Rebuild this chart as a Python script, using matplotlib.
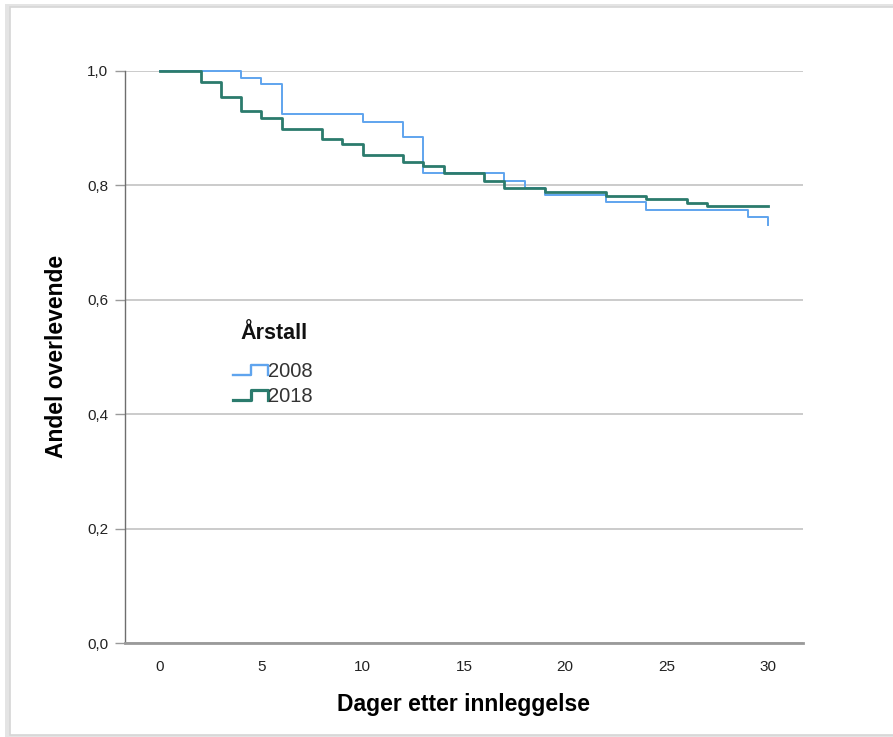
import matplotlib
matplotlib.use("Agg")
import matplotlib.pyplot as plt
from matplotlib.lines import Line2D
from matplotlib.legend_handler import HandlerBase
from matplotlib.patches import Rectangle

plt.rcParams['font.family'] = ['Liberation Sans', 'DejaVu Sans']

# Data (Kaplan-Meier step curves)
days_2008 = [0, 4, 5, 6, 10, 12, 13, 17, 18, 19, 22, 24, 29, 30]
surv_2008 = [1.0, 0.988, 0.976, 0.925, 0.911, 0.885, 0.821, 0.808, 0.795,
             0.783, 0.770, 0.757, 0.744, 0.731]
days_2018 = [0, 2, 3, 4, 5, 6, 8, 9, 10, 12, 13, 14, 16, 17, 19, 22, 24, 26, 27, 30]
surv_2018 = [1.0, 0.981, 0.955, 0.930, 0.917, 0.898, 0.881, 0.872, 0.853, 0.841,
             0.834, 0.821, 0.808, 0.795, 0.788, 0.781, 0.776, 0.769, 0.763, 0.763]
series_labels = ['2008', '2018']
legend_title = 'Årstall'
x_ticks = [0, 5, 10, 15, 20, 25, 30]
y_ticks = [0.0, 0.2, 0.4, 0.6, 0.8, 1.0]
y_ticklabels = ['0,0', '0,2', '0,4', '0,6', '0,8', '1,0']

col_2008 = '#5fa4ee'
col_2018 = '#2b7b6d'

fig = plt.figure(figsize=(8.93, 7.37), dpi=100)

# outer frame with a light shadow
fig.patches.append(Rectangle((0.006, 0.0), 1.2, 0.995, transform=fig.transFigure,
                             facecolor='#e4e4e4', edgecolor='none', zorder=-3))
fig.patches.append(Rectangle((0.011, 0.003), 1.2, 0.988, transform=fig.transFigure,
                             facecolor='white', edgecolor='#d6d6d6', lw=1.2, zorder=-2))

ax = fig.add_axes([0.140, 0.1275, 0.759, 0.7765])
ax.set_facecolor('none')

ax.plot(days_2008, surv_2008, drawstyle='steps-post', color=col_2008, lw=1.4,
        label=series_labels[0], clip_on=False, zorder=3)
ax.plot(days_2018, surv_2018, drawstyle='steps-post', color=col_2018, lw=2.0,
        label=series_labels[1], clip_on=False, zorder=3)

ax.set_xlim(-1.73, 31.73)
ax.set_ylim(0, 1.0)
ax.set_xticks(x_ticks)
ax.set_yticks(y_ticks)
ax.set_yticklabels(y_ticklabels)
ax.yaxis.grid(True, color='#cbcbcb', lw=1.4)
ax.set_axisbelow(True)

for s in ['top', 'right']:
    ax.spines[s].set_visible(False)
ax.spines['left'].set_color('#6e6e6e')
ax.spines['left'].set_linewidth(1.0)
ax.spines['bottom'].set_color('#9a9a9a')
ax.spines['bottom'].set_linewidth(2.0)

ax.tick_params(axis='x', length=0, pad=12, labelsize=11, labelcolor='#222222')
ax.tick_params(axis='y', length=7, width=1.0, color='#9a9a9a', pad=5,
               labelsize=11, labelcolor='#222222')

ax.set_xlabel('Dager etter innleggelse', fontsize=16.5, fontweight='bold', labelpad=14)
ax.set_ylabel('Andel overlevende', fontsize=16.5, fontweight='bold', labelpad=14)


class StepHandler(HandlerBase):
    def create_artists(self, legend, orig_handle, xdescent, ydescent, width, height,
                       fontsize, trans):
        x0 = -xdescent
        y0 = -ydescent
        xs = [x0, x0 + 0.52 * width, x0 + 0.52 * width, x0 + width, x0 + width]
        ys = [y0 + 0.15 * height, y0 + 0.15 * height, y0 + 0.85 * height,
              y0 + 0.85 * height, y0 + 0.15 * height]
        ln = Line2D(xs, ys, color=orig_handle.get_color(),
                    lw=orig_handle.get_linewidth() + 0.3, transform=trans)
        return [ln]


handles = ax.get_lines()
leg = ax.legend(handles=handles, labels=series_labels,
                handler_map={Line2D: StepHandler()},
                loc='upper left', bbox_to_anchor=(0.159, 0.491),
                frameon=False, fontsize=14.5,
                handlelength=1.75, handletextpad=0.0,
                labelspacing=0.3, borderaxespad=0, borderpad=0)
for t in leg.get_texts():
    t.set_color('#333333')

ax.text(0.1696, 0.5417, legend_title, transform=ax.transAxes, fontsize=15.5,
        fontweight='bold', ha='left', va='center', color='#111111')

fig.savefig('out.png', dpi=100)
